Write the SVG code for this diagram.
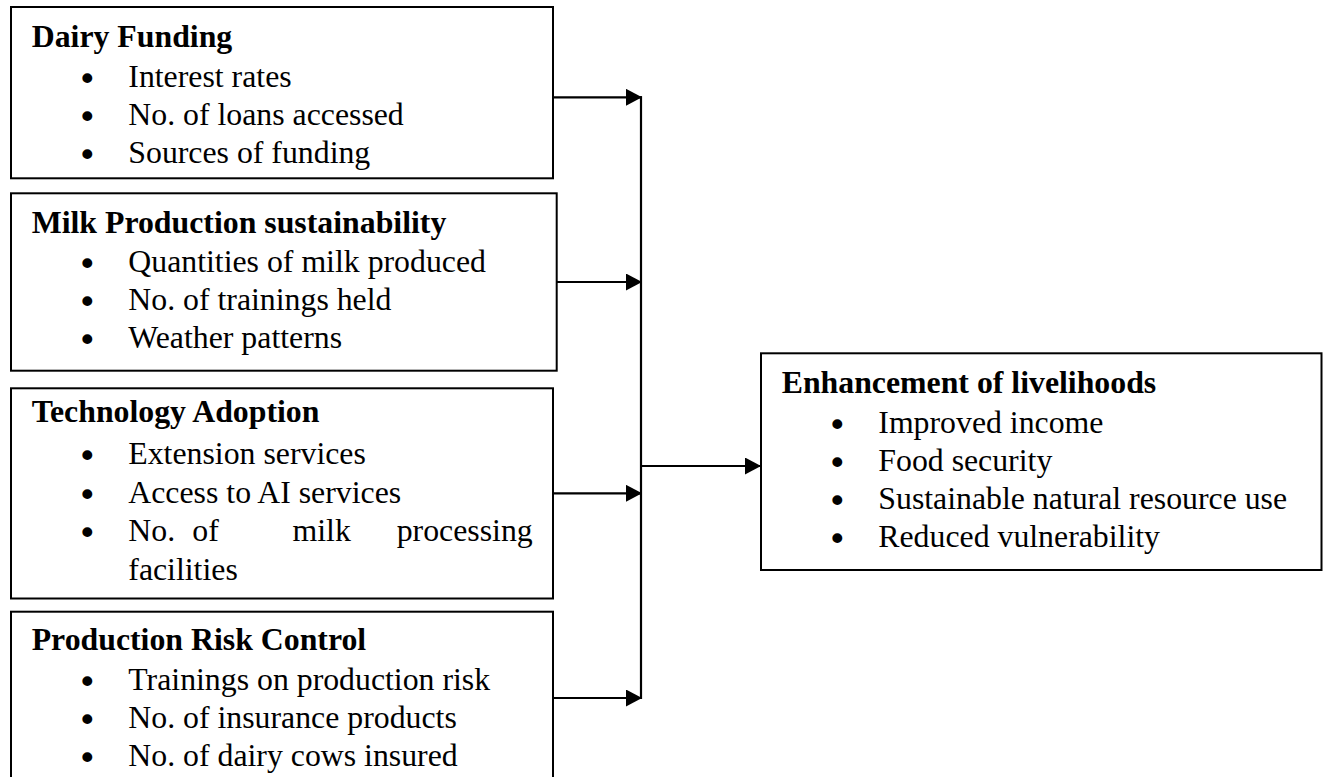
<svg xmlns="http://www.w3.org/2000/svg" width="1323" height="777" viewBox="0 0 1323 777">
<style>
.box{fill:#fff;stroke:#000;stroke-width:2}
.t{font-family:"Liberation Serif","Times New Roman",serif;font-size:31.8px;fill:#000}
.h{font-weight:bold}
.bul{font-family:"DejaVu Sans","Liberation Sans",sans-serif;font-size:34px;text-anchor:middle}
.c{stroke:#000;stroke-width:2.2;fill:none}
</style>
<defs>
<marker id="arr" markerUnits="userSpaceOnUse" markerWidth="17" markerHeight="17" refX="16" refY="8.5" orient="auto">
<path d="M0,0 L16,8.5 L0,17 Z" fill="#000"/>
</marker>
</defs>
<rect width="1323" height="777" fill="#fff"/>
<g id="dairy-funding">
<rect class="box" x="11" y="7" width="542" height="171.3"/>
<text class="t h" x="31.7" y="46.7">Dairy Funding</text>
<text class="t"><tspan class="bul" x="87.3" y="91">•</tspan><tspan x="128.3" y="87">Interest rates</tspan></text>
<text class="t"><tspan class="bul" x="87.3" y="129">•</tspan><tspan x="128.3" y="125">No. of loans accessed</tspan></text>
<text class="t"><tspan class="bul" x="87.3" y="166.5">•</tspan><tspan x="128.3" y="162.5">Sources of funding</tspan></text>
</g>
<g id="milk-production">
<rect class="box" x="11" y="193.3" width="545.7" height="177.4"/>
<text class="t h" x="31.7" y="233">Milk Production sustainability</text>
<text class="t"><tspan class="bul" x="87.3" y="275.5">•</tspan><tspan x="128.3" y="271.5">Quantities of milk produced</tspan></text>
<text class="t"><tspan class="bul" x="87.3" y="313.5">•</tspan><tspan x="128.3" y="309.5">No. of trainings held</tspan></text>
<text class="t"><tspan class="bul" x="87.3" y="351.5">•</tspan><tspan x="128.3" y="347.5">Weather patterns</tspan></text>
</g>
<g id="technology-adoption">
<rect class="box" x="11" y="388.3" width="542" height="210.2"/>
<text class="t h" x="31.7" y="422">Technology Adoption</text>
<text class="t"><tspan class="bul" x="87.3" y="468">•</tspan><tspan x="128.3" y="464">Extension services</tspan></text>
<text class="t"><tspan class="bul" x="87.3" y="506.5">•</tspan><tspan x="128.3" y="502.5">Access to AI services</tspan></text>
<text class="t"><tspan class="bul" x="87.3" y="545">•</tspan><tspan x="128.3" y="541">No.</tspan><tspan x="192.3" y="541">of</tspan><tspan x="292.5" y="541">milk</tspan><tspan x="396.7" y="541">processing</tspan></text>
<text class="t" x="128.3" y="579.5">facilities</text>
</g>
<g id="production-risk">
<rect class="box" x="11" y="611.7" width="542" height="200"/>
<text class="t h" x="31.7" y="650">Production Risk Control</text>
<text class="t"><tspan class="bul" x="87.3" y="693.5">•</tspan><tspan x="128.3" y="689.5">Trainings on production risk</tspan></text>
<text class="t"><tspan class="bul" x="87.3" y="731.5">•</tspan><tspan x="128.3" y="727.5">No. of insurance products</tspan></text>
<text class="t"><tspan class="bul" x="87.3" y="769.5">•</tspan><tspan x="128.3" y="765.5">No. of dairy cows insured</tspan></text>
</g>
<g id="livelihoods">
<rect class="box" x="761" y="353.3" width="560.5" height="216.7"/>
<text class="t h" x="781.7" y="393.3">Enhancement of livelihoods</text>
<text class="t"><tspan class="bul" x="837.3" y="436.7">•</tspan><tspan x="878.3" y="432.7">Improved income</tspan></text>
<text class="t"><tspan class="bul" x="837.3" y="474.5">•</tspan><tspan x="878.3" y="470.5">Food security</tspan></text>
<text class="t"><tspan class="bul" x="837.3" y="512.5">•</tspan><tspan x="878.3" y="508.5">Sustainable natural resource use</tspan></text>
<text class="t"><tspan class="bul" x="837.3" y="550.7">•</tspan><tspan x="878.3" y="546.7">Reduced vulnerability</tspan></text>
</g>
<g id="connectors">
<line class="c" x1="641" y1="96.2" x2="641" y2="699"/>
<line class="c" x1="553" y1="97.3" x2="642" y2="97.3" marker-end="url(#arr)"/>
<line class="c" x1="556.7" y1="282" x2="642" y2="282" marker-end="url(#arr)"/>
<line class="c" x1="553" y1="493.3" x2="642" y2="493.3" marker-end="url(#arr)"/>
<line class="c" x1="553" y1="698" x2="642" y2="698" marker-end="url(#arr)"/>
<line class="c" x1="641" y1="466" x2="761" y2="466" marker-end="url(#arr)"/>
</g>
</svg>
